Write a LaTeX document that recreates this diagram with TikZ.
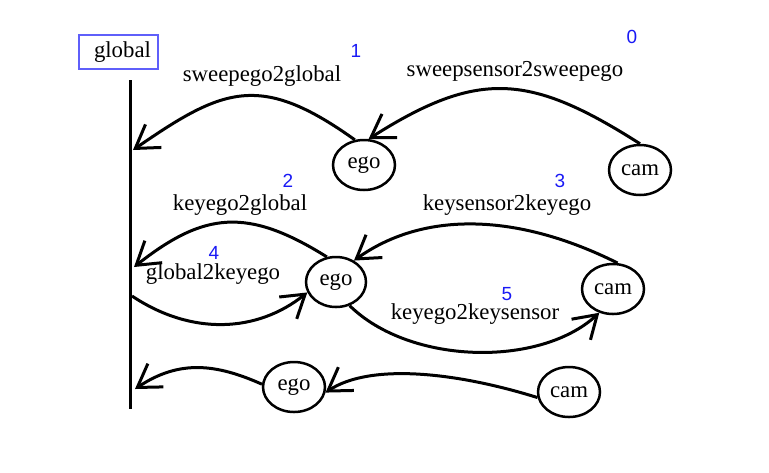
\documentclass[tikz,border=0pt]{standalone}
\usepackage{fontspec}
\setmainfont{Liberation Serif}
\newfontfamily\idxfont{Liberation Sans}
\usetikzlibrary{shapes.geometric, arrows.meta}
\definecolor{idxblue}{RGB}{25,25,245}
\definecolor{frameblue}{RGB}{95,95,250}

\begin{document}
\begin{tikzpicture}[
  x=0.5pt, y=-0.5pt,
  blob/.style={ellipse, draw, line width=1.25pt, minimum width=31pt,
               minimum height=25pt, inner sep=0pt,
               font=\fontsize{11.4}{13}\selectfont},
  frame/.style={rectangle, draw=frameblue, line width=0.6pt, minimum width=39.5pt,
                minimum height=17pt, inner sep=0pt,
                font=\fontsize{11.4}{13}\selectfont},
  lbl/.style={inner sep=0pt, font=\fontsize{11.4}{13}\selectfont},
  idx/.style={inner sep=0pt, text=idxblue, font=\idxfont\fontsize{9.5}{11}\selectfont},
  arr/.style={-{Straight Barb[length=11pt, width=14pt]}, line width=1.5pt},
  rail/.style={line width=1.5pt}
]
\useasboundingbox (0,0) rectangle (769,472);

% global frame and its rail
\node[frame] (global) at (118.5,52) {\hspace*{4pt}global};
\coordinate (railtop) at (130,80);
\coordinate (railbot) at (130,409);
\draw[rail] (railtop) -- (railbot);
\coordinate (g1) at (133,150);
\coordinate (g2) at (134,267);
\coordinate (g4) at (132,296);
\coordinate (g6) at (135,389);

% sweep row
\node[blob] (ego1) at (364,165) {ego};
\node[blob] (cam1) at (640,170) {cam};

% key row
\node[blob, minimum width=30pt] (ego2) at (336,282) {ego};
\node[blob] (cam2) at (613,289) {cam};

% bottom row
\node[blob] (ego3) at (294,387) {ego};
\node[blob] (cam3) at (569,392) {cam};

% Arrows
\draw[arr] (cam1.north) .. controls +(-110,-70) and +(110,-70) .. (ego1.80);
\draw[arr] (ego1.110) .. controls +(-95,-68) and +(90,-62) .. (g1);
\draw[arr] (ego2.110) .. controls +(-80,-50) and +(70,-55) .. (g2);
\draw[arr] (cam2.80) .. controls +(-100,-50) and +(70,-50) .. (ego2.50);
\draw[arr] (g4) .. controls +(60,40) and +(-50,40) .. (ego2.200);
\draw[arr] (ego2.300) .. controls +(60,59) and +(-60,55) .. (cam2.240);
\draw[arr] (ego3.175) .. controls +(-45,-20) and +(45,-30) .. (g6);
\draw[arr] (cam3.190) .. controls +(-80,-25) and +(45,-30) .. (ego3.350);

% Edge names
\node[lbl] (l0) at (515,71) {sweepsensor2sweepego};
\node[lbl] (l1) at (262,76) {sweepego2global};
\node[lbl] (l2) at (240,205) {keyego2global};
\node[lbl] (l3) at (507,205) {keysensor2keyego};
\node[lbl] (l4) at (213,274) {global2keyego};
\node[lbl] (l5) at (475,314) {keyego2keysensor};

% Step numbers
\node[idx] (n0) at (632,37) {0};
\node[idx] (n1) at (356,51) {1};
\node[idx] (n2) at (288,181) {2};
\node[idx] (n3) at (560,181) {3};
\node[idx] (n4) at (214,253) {4};
\node[idx] (n5) at (507,294) {5};

\end{tikzpicture}
\end{document}
